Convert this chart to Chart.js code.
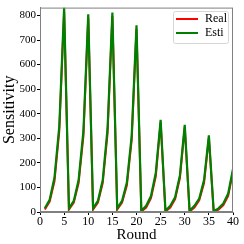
<!DOCTYPE html>
<html>
<head>
<meta charset="utf-8">
<script src="https://cdn.jsdelivr.net/npm/chart.js@4.4.0/dist/chart.umd.min.js"></script>
<style>
  html, body { margin: 0; padding: 0; background: #fff; }
  #wrap { width: 244px; height: 244px; }
</style>
</head>
<body>
<div id="wrap"><canvas id="chart" width="244" height="244"></canvas></div>
<script>
const rounds = [1,2,3,4,5,6,7,8,9,10,11,12,13,14,15,16,17,18,19,20,21,22,23,24,25,26,27,28,29,30,31,32,33,34,35,36,37,38,39,40];
const realValues = [10,42,125,330,815, 10,38,118,310,790, 10,38,118,320,798, 10,38,108,292,745,
  2,18,56,145,365, 2,18,52,138,345, 2,18,48,118,302, 1,10,28,65,165];
const estiValues = [15,50,140,350,832, 15,45,130,330,805, 15,45,130,340,812, 15,45,120,310,760,
  5,25,65,160,375, 5,25,60,150,355, 5,25,55,130,312, 3,15,35,75,175];
const xTicks = [0,5,10,15,20,25,30,35,40];
const yTicks = [0,100,200,300,400,500,600,700,800];

const serif = '"Liberation Serif", "DejaVu Serif", serif';

// frame around plot area + legend box in upper right
const framePlugin = {
  id: 'frame',
  afterDraw(chart) {
    const {ctx, chartArea: a} = chart;
    ctx.save();
    ctx.strokeStyle = '#808080';
    ctx.lineWidth = 1;
    ctx.strokeRect(a.left + 0.5, a.top + 0.5, a.right - a.left - 1, a.bottom - a.top - 1);

    const bx = 173, by = 11, bw = 55, bh = 32;
    ctx.fillStyle = 'rgba(255,255,255,0.9)';
    ctx.strokeStyle = '#d6d6d6';
    ctx.beginPath();
    ctx.roundRect(bx + 0.5, by + 0.5, bw, bh, 2);
    ctx.fill();
    ctx.stroke();
    chart.data.datasets.forEach((ds, i) => {
      const y = by + 8 + i * 14;
      ctx.strokeStyle = ds.borderColor;
      ctx.lineWidth = 2;
      ctx.beginPath();
      ctx.moveTo(bx + 3, y);
      ctx.lineTo(bx + 25, y);
      ctx.stroke();
      ctx.fillStyle = '#000';
      ctx.font = '12px ' + serif;
      ctx.textBaseline = 'middle';
      ctx.fillText(ds.label, bx + 32, y);
    });
    ctx.restore();
  }
};

new Chart(document.getElementById('chart'), {
  type: 'line',
  data: {
    datasets: [
      {label: 'Real', order: 2, data: rounds.map((r, i) => ({x: r, y: realValues[i]})), borderColor: '#ff0000', borderWidth: 2, pointRadius: 0, tension: 0},
      {label: 'Esti', order: 1, data: rounds.map((r, i) => ({x: r, y: estiValues[i]})), borderColor: '#008000', borderWidth: 2.2, pointRadius: 0, tension: 0}
    ]
  },
  options: {
    responsive: false,
    animation: false,
    layout: {padding: {top: 6, right: 11, left: 0, bottom: 0}},
    plugins: {legend: {display: false}, tooltip: {enabled: false}},
    scales: {
      x: {
        type: 'linear', min: 0, max: 40,
        afterBuildTicks: s => { s.ticks = xTicks.map(v => ({value: v})); },
        afterFit: s => { s.height = 32; },
        grid: {drawOnChartArea: false, tickLength: 3, color: '#000'},
        border: {color: '#808080'},
        ticks: {color: '#000', font: {family: serif, size: 12}, padding: 0, maxRotation: 0},
        title: {display: true, text: 'Round', color: '#000', font: {family: serif, size: 15}, padding: {top: -2, bottom: 0}}
      },
      y: {
        type: 'linear', min: 0, max: 832,
        afterBuildTicks: s => { s.ticks = yTicks.map(v => ({value: v})); },
        afterFit: s => { s.width = 40; },
        grid: {drawOnChartArea: false, tickLength: 3, color: '#000'},
        border: {color: '#808080'},
        ticks: {color: '#000', font: {family: serif, size: 11}, padding: 1},
        title: {display: true, text: 'Sensitivity', color: '#000', font: {family: serif, size: 16}, padding: 0}
      }
    }
  },
  plugins: [framePlugin]
});
</script>
</body>
</html>
